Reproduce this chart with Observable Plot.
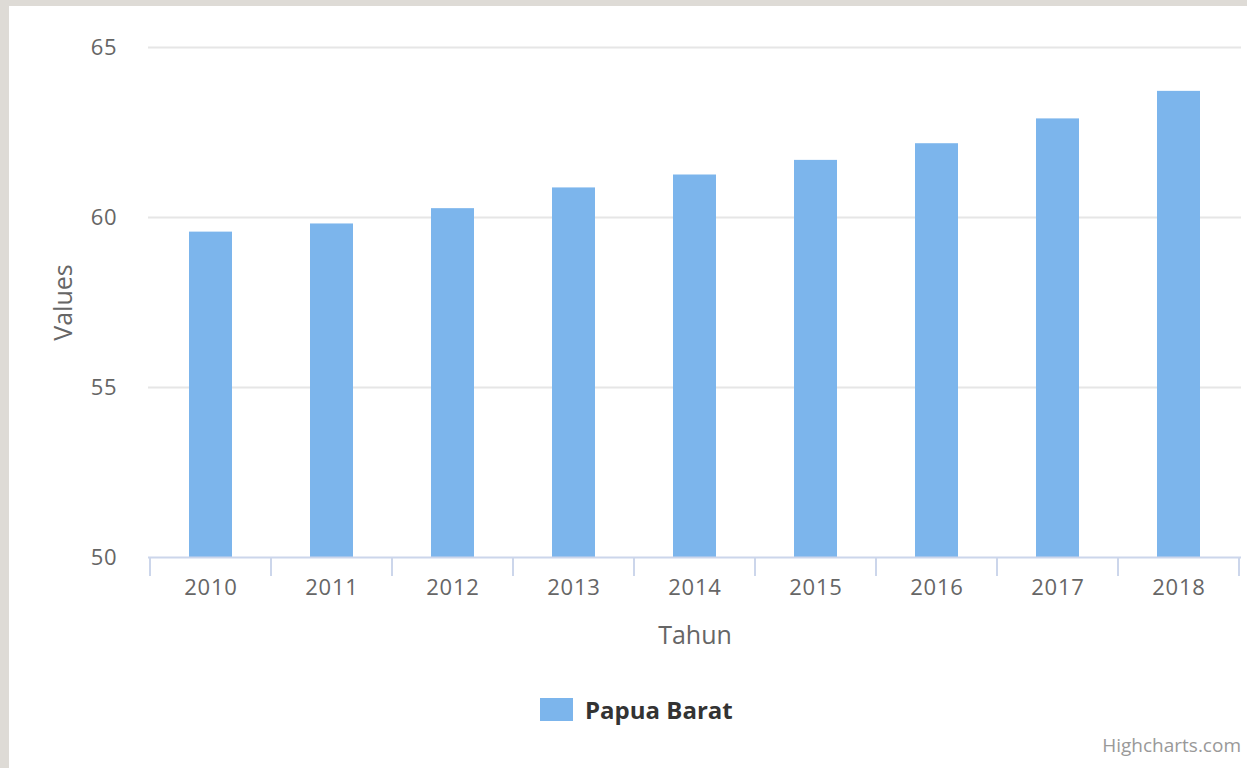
<!DOCTYPE html>
<html>
<head>
<meta charset="utf-8">
<script src="https://cdn.jsdelivr.net/npm/d3@7"></script>
<script src="https://cdn.jsdelivr.net/npm/@observablehq/plot@0.6"></script>
<style>
  html, body { margin: 0; padding: 0; width: 1247px; height: 768px; overflow: hidden; background: #dedbd6; font-family: "Open Sans", sans-serif; }
  #card { position: absolute; left: 9px; top: 6px; width: 1238px; height: 762px; background: #ffffff; }
  #chart { position: absolute; left: 0; top: 0; }
  #chart svg g[aria-label="x-axis tick label"] text, #chart svg g[aria-label="y-axis tick label"] text { letter-spacing: 0.8px; }
  #legend { position: absolute; left: 531px; top: 687px; display: flex; align-items: center; }
  #legend .sw { width: 33px; height: 23px; background: #7cb5ec; margin-right: 12px; }
  #legend .lbl { font-weight: 700; font-size: 24px; color: #333333; }
  #credit { position: absolute; right: 6px; top: 726px; font-size: 19px; color: #999999; }
</style>
</head>
<body>
<div id="card">
  <div id="chart"></div>
  <div id="legend"><div class="sw"></div><div class="lbl"></div></div>
  <div id="credit">Highcharts.com</div>
</div>
<script>
// ---- data ----
const years = ["2010", "2011", "2012", "2013", "2014", "2015", "2016", "2017", "2018"];
const values = [59.57, 59.81, 60.26, 60.87, 61.25, 61.68, 62.17, 62.90, 63.71];
const yTicks = [50, 55, 60, 65];
const seriesName = "Papua Barat";
const xTitle = "Tahun";
const yTitle = "Values";

const rows = years.map((y, i) => ({year: y, value: values[i]}));
const yMin = yTicks[0];
const yMax = yTicks[yTicks.length - 1];

const W = 1238, H = 650;
const chart = Plot.plot({
  width: W,
  height: H,
  marginLeft: 139,
  marginRight: 6,
  marginTop: 41,
  marginBottom: 99,
  style: {fontFamily: "'Open Sans', sans-serif", background: "transparent", overflow: "visible"},
  x: {type: "band", domain: years, paddingInner: 0.646, paddingOuter: 0.323, align: 0.5},
  y: {domain: [yMin, yMax]},
  marks: [
    Plot.gridY(yTicks.filter(t => t > yMin), {stroke: "#e6e6e6", strokeOpacity: 1, strokeWidth: 2}),
    Plot.barY(rows, {x: "year", y1: yMin, y2: "value", fill: "#7cb5ec"}),
    Plot.ruleY([yMin], {stroke: "#ccd6eb", strokeWidth: 2}),
    Plot.axisY({ticks: yTicks, tickSize: 0, tickPadding: 31, fontSize: 22, fill: "#666666", label: null}),
    Plot.axisX({tickSize: 0, tickPadding: 22, fontSize: 22, fill: "#666666", label: null}),
    Plot.text([xTitle], {frameAnchor: "bottom", dy: 78, lineAnchor: "middle", fontSize: 25, fill: "#666666"}),
    Plot.text([yTitle], {frameAnchor: "left", dx: -85, rotate: -90, lineAnchor: "middle", textAnchor: "middle", fontSize: 25, fill: "#666666"})
  ]
});
document.getElementById("chart").appendChild(chart);
document.querySelector("#legend .lbl").textContent = seriesName;

// category boundary ticks on the x axis, positioned by Plot's x scale
const xs = chart.scale("x");
const yS = chart.scale("y");
const gap = (xs.step - xs.bandwidth) / 2;
const bounds = years.map(y => xs.apply(y) - gap);
bounds.push(xs.apply(years[years.length - 1]) + xs.bandwidth + gap);
const y0 = yS.apply(yMin);
d3.select(chart).append("g")
  .selectAll("line").data(bounds).join("line")
  .attr("x1", d => d).attr("x2", d => d)
  .attr("y1", y0).attr("y2", y0 + 19)
  .attr("stroke", "#ccd6eb").attr("stroke-width", 2);
</script>
</body>
</html>
